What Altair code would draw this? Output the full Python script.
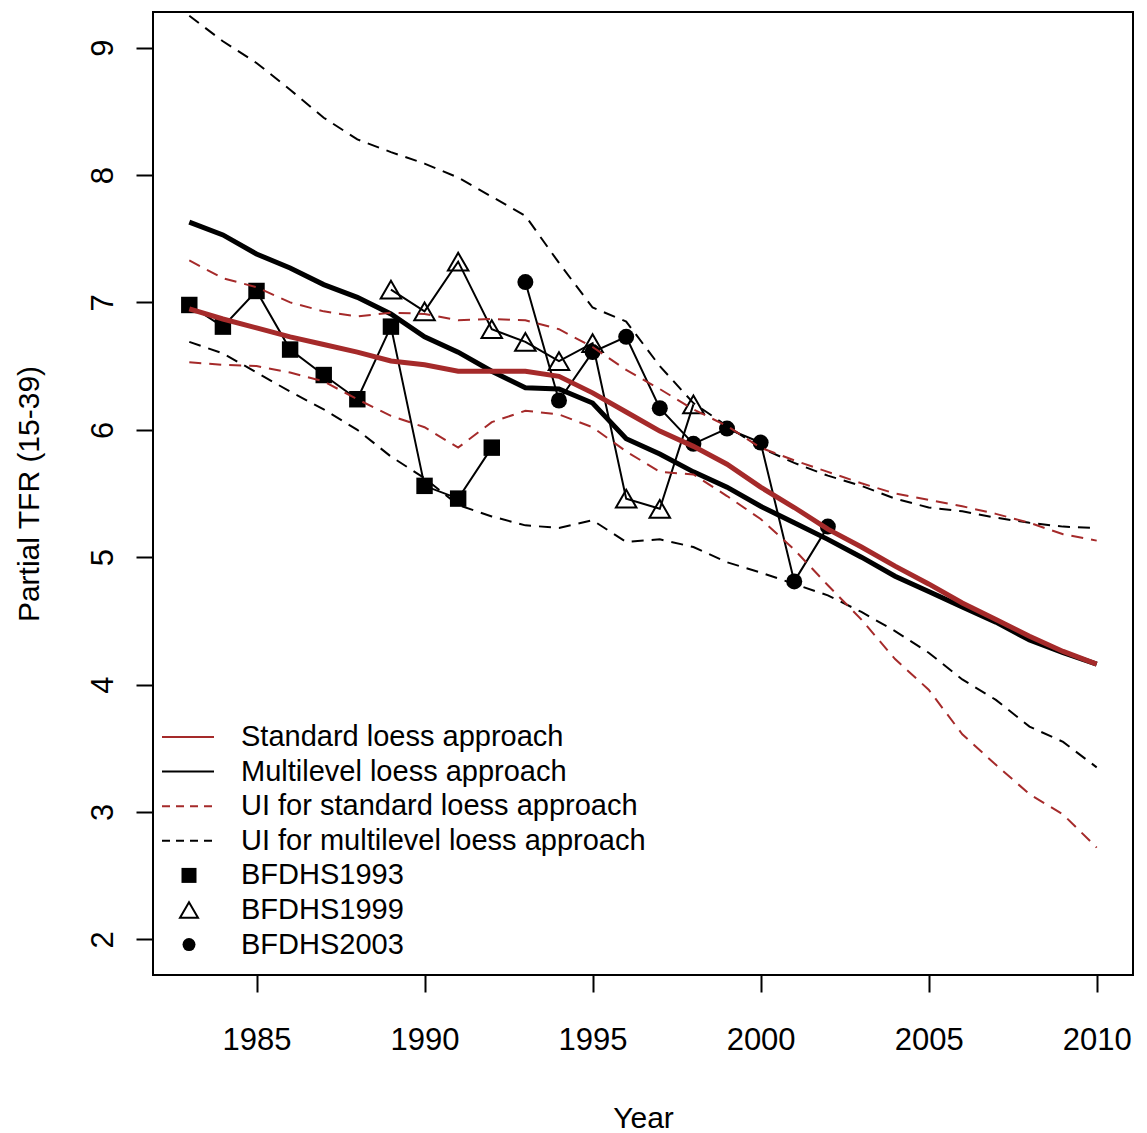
import altair as alt
import pandas as pd

# ---------------- data ----------------
years = list(range(1983, 2011))

std_fit = [6.95, 6.87, 6.80, 6.73, 6.67, 6.61, 6.54, 6.51, 6.46, 6.46, 6.46, 6.42, 6.29, 6.14,
           5.99, 5.87, 5.73, 5.55, 5.39, 5.22, 5.08, 4.93, 4.79, 4.64, 4.51, 4.38, 4.26, 4.16]
ml_fit = [7.63, 7.53, 7.38, 7.27, 7.14, 7.04, 6.91, 6.73, 6.61, 6.46, 6.33, 6.32, 6.21, 5.93,
          5.81, 5.67, 5.55, 5.40, 5.27, 5.14, 5.00, 4.85, 4.73, 4.61, 4.49, 4.35, 4.25, 4.16]
std_lo = [6.53, 6.51, 6.50, 6.45, 6.38, 6.24, 6.11, 6.02, 5.86, 6.06, 6.15, 6.12, 6.02, 5.83,
          5.67, 5.65, 5.48, 5.30, 5.06, 4.78, 4.51, 4.20, 3.96, 3.61, 3.37, 3.14, 2.98, 2.72]
std_hi = [7.33, 7.19, 7.12, 7.00, 6.93, 6.89, 6.92, 6.91, 6.86, 6.87, 6.86, 6.79, 6.65, 6.47,
          6.32, 6.16, 6.03, 5.86, 5.76, 5.67, 5.58, 5.50, 5.45, 5.40, 5.34, 5.27, 5.18, 5.13]
ml_lo = [6.69, 6.60, 6.45, 6.30, 6.16, 6.00, 5.79, 5.62, 5.41, 5.32, 5.25, 5.23, 5.29, 5.12,
         5.14, 5.08, 4.96, 4.88, 4.79, 4.70, 4.57, 4.42, 4.25, 4.04, 3.88, 3.67, 3.55, 3.35]
ml_hi = [9.25, 9.05, 8.88, 8.67, 8.45, 8.28, 8.18, 8.09, 7.98, 7.83, 7.68, 7.31, 6.96, 6.85,
         6.50, 6.21, 6.03, 5.86, 5.74, 5.64, 5.56, 5.46, 5.39, 5.36, 5.31, 5.27, 5.24, 5.23]

s93_years = list(range(1983, 1993))
s93 = [6.98, 6.81, 7.09, 6.63, 6.43, 6.24, 6.81, 5.56, 5.46, 5.86]
s99_years = list(range(1989, 1999))
s99 = [7.10, 6.93, 7.32, 6.79, 6.69, 6.54, 6.68, 5.46, 5.38, 6.20]
s03_years = list(range(1993, 2003))
s03 = [7.16, 6.23, 6.61, 6.73, 6.17, 5.89, 6.01, 5.90, 4.81, 5.24]

x_ticks = [1985, 1990, 1995, 2000, 2005, 2010]
y_ticks = [2, 3, 4, 5, 6, 7, 8, 9]

legend_labels = ["Standard loess approach", "Multilevel loess approach",
                 "UI for standard loess approach", "UI for multilevel loess approach",
                 "BFDHS1993", "BFDHS1999", "BFDHS2003"]

# ---------------- styling ----------------
FONT = "Liberation Sans"
RED = "#A52A2A"
W, H = 980, 963
DASH = [12, 8]


def frame(xs, ys):
    return pd.DataFrame({"year": xs, "tfr": ys})


X = alt.X("year:Q",
          scale=alt.Scale(domain=[1981.92, 2011.08], nice=False, zero=False),
          axis=alt.Axis(values=x_ticks, format="d", title="Year", grid=False, domain=False,
                        tickSize=17, tickWidth=2, tickColor="black",
                        labelFont=FONT, labelFontSize=31, labelColor="black",
                        labelBaseline="alphabetic", labelPadding=57, labelFlush=False,
                        labelOverlap=False,
                        titleFont=FONT, titleFontSize=30, titleFontWeight="normal",
                        titleColor="black", titleX=W / 2, titleY=152,
                        titleAlign="center", titleBaseline="alphabetic"))
Y = alt.Y("tfr:Q",
          scale=alt.Scale(domain=[1.72, 9.28], nice=False, zero=False),
          axis=alt.Axis(values=y_ticks, format="d", title="Partial TFR (15-39)", grid=False,
                        domain=False, tickSize=17, tickWidth=2, tickColor="black",
                        labelFont=FONT, labelFontSize=31, labelColor="black",
                        labelAngle=270, labelAlign="center", labelBaseline="alphabetic",
                        labelPadding=24, labelFlush=False, labelOverlap=False,
                        titleFont=FONT, titleFontSize=30, titleFontWeight="normal",
                        titleColor="black", titleAngle=270, titleX=-115, titleY=H / 2,
                        titleAlign="center", titleBaseline="alphabetic"))

layers = []

# survey series: thin connecting lines and symbols
survey = [
    (s93_years, s93, "square", True, 270),
    (s99_years, s99, "triangle-up", False, 420),
    (s03_years, s03, "circle", True, 256),
]
for xs, ys, shape, filled, size in survey:
    d = frame(xs, ys)
    layers.append(alt.Chart(d).mark_line(color="black", strokeWidth=2).encode(x=X, y=Y))
    if filled:
        pm = alt.Chart(d).mark_point(shape=shape, filled=True, fill="black", stroke="black",
                                     strokeWidth=0, size=size, opacity=1)
    else:
        pm = alt.Chart(d).mark_point(shape=shape, filled=False, stroke="black", fill="white",
                                     fillOpacity=0, strokeWidth=2, size=size, opacity=1)
    layers.append(pm.encode(x=X, y=Y))

# fitted lines
layers.append(alt.Chart(frame(years, ml_fit)).mark_line(color="black", strokeWidth=5, clip=True)
              .encode(x=X, y=Y))
layers.append(alt.Chart(frame(years, std_fit)).mark_line(color=RED, strokeWidth=5, clip=True)
              .encode(x=X, y=Y))

# uncertainty intervals
for ys, col in [(ml_hi, "black"), (ml_lo, "black"), (std_hi, RED), (std_lo, RED)]:
    layers.append(alt.Chart(frame(years, ys)).mark_line(color=col, strokeWidth=2,
                                                       strokeDash=DASH, clip=True)
                  .encode(x=X, y=Y))

# ---------------- legend (drawn manually, pixel positions) ----------------
one = pd.DataFrame({"k": [0]})
leg_y0, leg_dy = 725, 34.6
line_styles = [(RED, None), ("black", None), (RED, DASH), ("black", DASH)]
for i, (col, dash) in enumerate(line_styles):
    ry = leg_y0 + i * leg_dy
    kw = dict(color=col, strokeWidth=2)
    if dash:
        kw["strokeDash"] = [8, 6]
    layers.append(alt.Chart(one).mark_rule(**kw).encode(
        x=alt.value(9), x2=alt.value(61), y=alt.value(ry)))

leg_syms = [("square", True, 225), ("triangle-up", False, 324), ("circle", True, 169)]
for j, (shape, filled, size) in enumerate(leg_syms):
    ry = leg_y0 + (4 + j) * leg_dy
    if filled:
        pm = alt.Chart(one).mark_point(shape=shape, filled=True, fill="black", strokeWidth=0,
                                       size=size, opacity=1)
    else:
        pm = alt.Chart(one).mark_point(shape=shape, filled=False, stroke="black",
                                       strokeWidth=2, size=size, opacity=1)
    layers.append(pm.encode(x=alt.value(36), y=alt.value(ry)))

for i, lab in enumerate(legend_labels):
    ry = leg_y0 + i * leg_dy
    layers.append(alt.Chart(one).mark_text(text=lab, align="left", baseline="middle",
                                           font=FONT, fontSize=29, color="black")
                  .encode(x=alt.value(88), y=alt.value(ry)))

chart = alt.layer(*layers).properties(
    width=W, height=H,
    autosize=alt.AutoSizeParams(type="none"),
    padding={"left": 153, "top": 12, "right": 14, "bottom": 158},
    background="white",
).configure_view(stroke="black", strokeWidth=2)

chart.save("out.html", embed_options={"renderer": "svg", "actions": False})
